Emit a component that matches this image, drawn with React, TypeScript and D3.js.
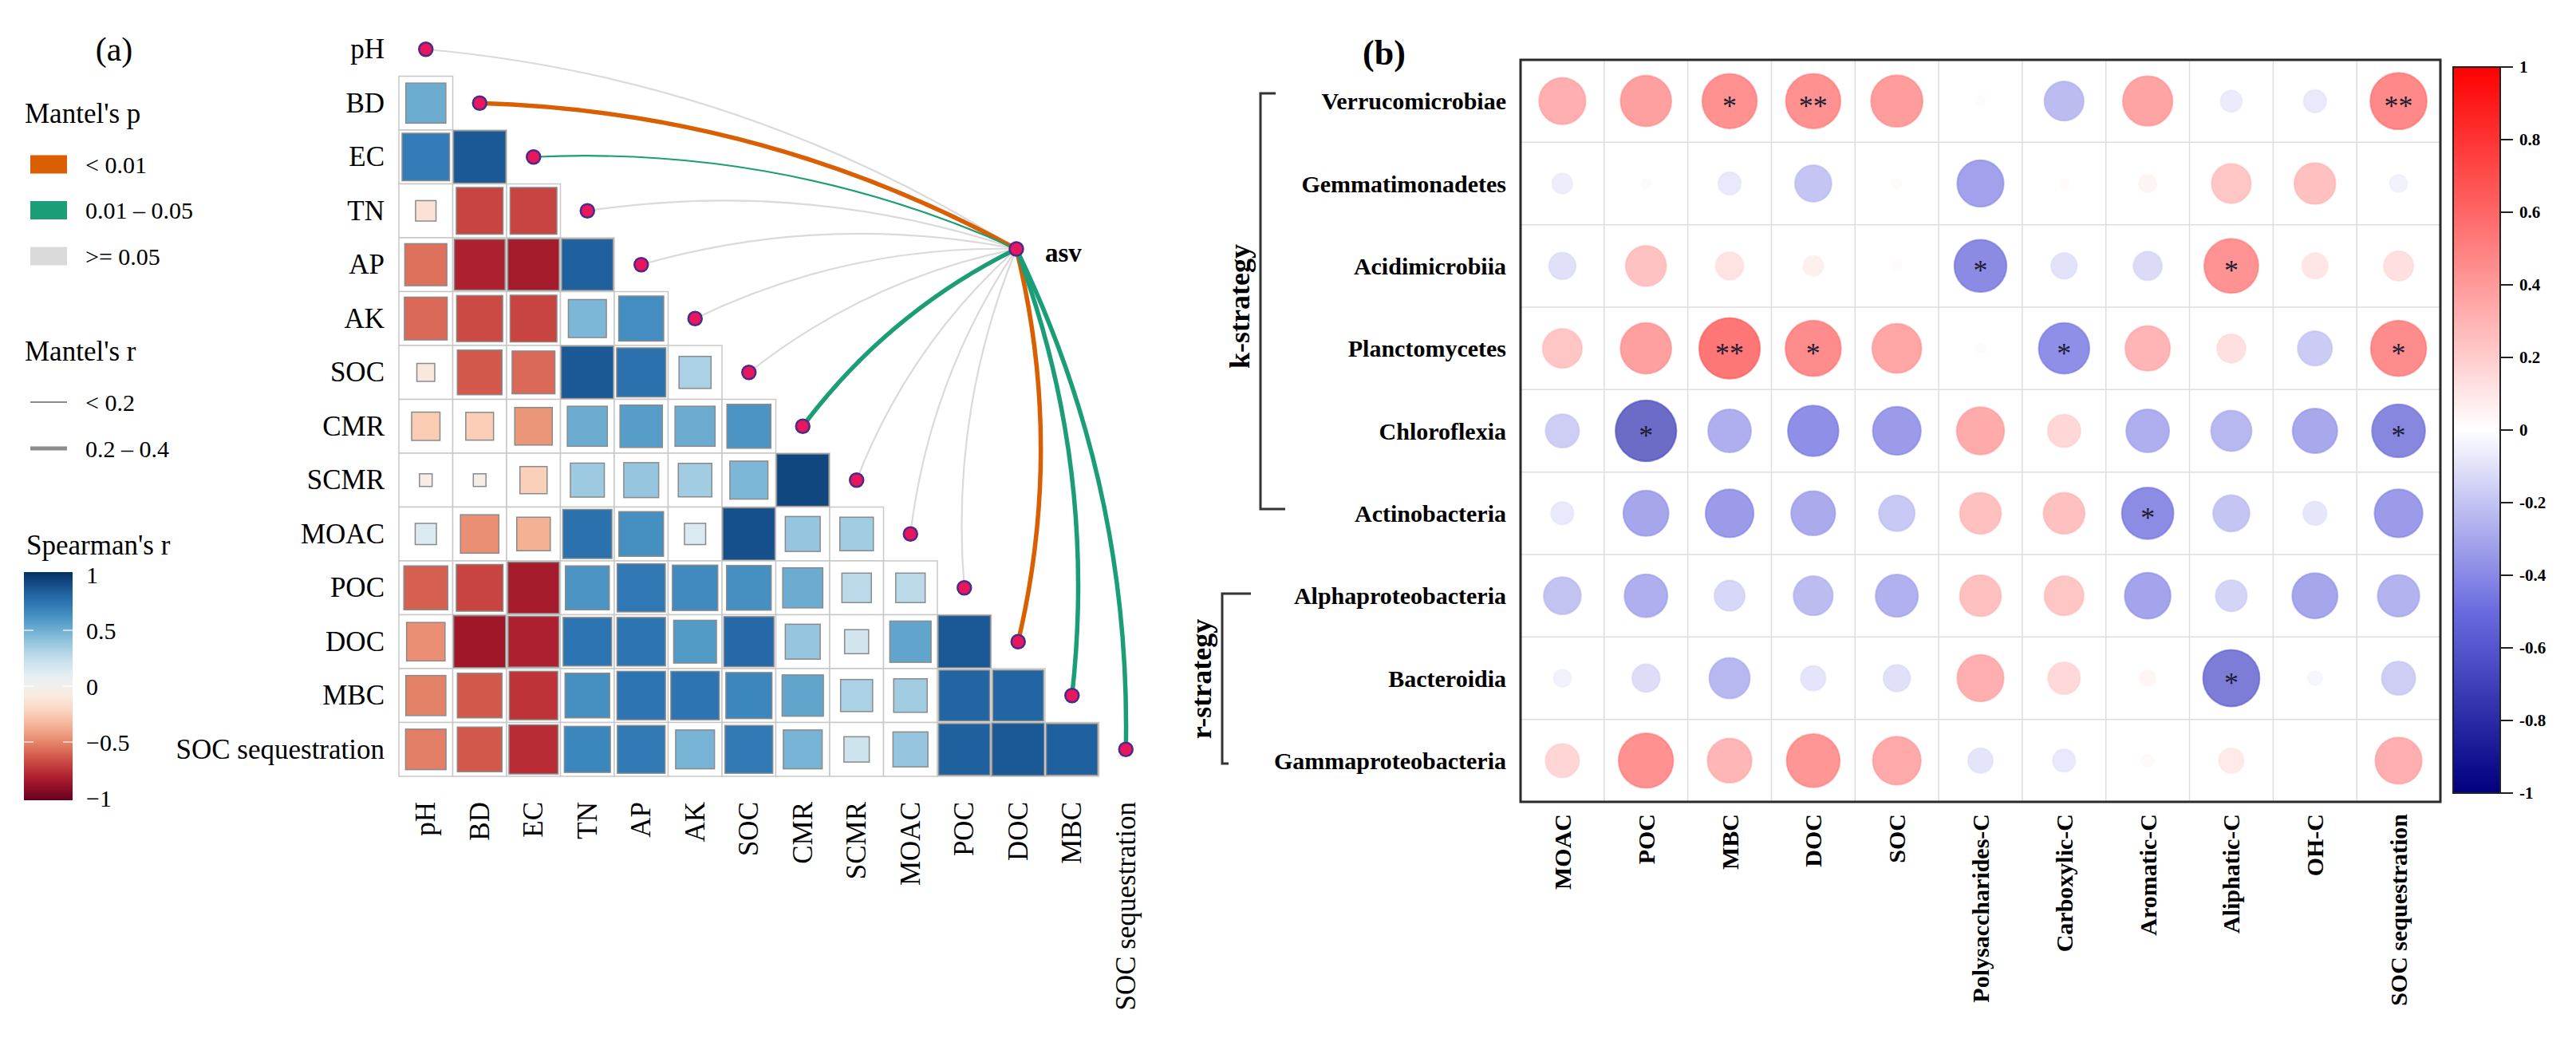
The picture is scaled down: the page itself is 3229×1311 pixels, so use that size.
import * as d3 from 'd3';

const FONT = "'Times New Roman', 'Liberation Serif', serif";
const W = 3229;
const H = 1311;

// ---------- panel (a) data ----------
const ENV_VARS = ['pH', 'BD', 'EC', 'TN', 'AP', 'AK', 'SOC', 'CMR', 'SCMR', 'MOAC', 'POC', 'DOC', 'MBC', 'SOC sequestration'];

// lower triangle, row i has values for columns 0..i-1
const SPEARMAN_ROWS = [
  [],
  [0.5],
  [0.7, 0.85],
  [-0.13, -0.68, -0.68],
  [-0.55, -0.8, -0.82, 0.82],
  [-0.57, -0.66, -0.68, 0.45, 0.63],
  [-0.1, -0.62, -0.57, 0.85, 0.75, 0.32],
  [-0.25, -0.24, -0.44, 0.5, 0.56, 0.5, 0.6],
  [-0.05, -0.05, -0.23, 0.36, 0.38, 0.35, 0.45, 0.92],
  [0.14, -0.46, -0.35, 0.75, 0.62, 0.14, 0.88, 0.38, 0.35],
  [-0.6, -0.68, -0.82, 0.6, 0.72, 0.64, 0.62, 0.5, 0.27, 0.27],
  [-0.46, -0.84, -0.8, 0.73, 0.73, 0.57, 0.78, 0.38, 0.18, 0.53, 0.85],
  [-0.5, -0.62, -0.73, 0.62, 0.73, 0.73, 0.66, 0.53, 0.32, 0.35, 0.8, 0.8],
  [-0.51, -0.62, -0.75, 0.66, 0.71, 0.47, 0.71, 0.47, 0.2, 0.38, 0.82, 0.85, 0.82],
];

const MANTEL_P = ['>= 0.05', '< 0.01', '0.01 - 0.05', '>= 0.05', '>= 0.05', '>= 0.05', '>= 0.05',
  '0.01 - 0.05', '>= 0.05', '>= 0.05', '>= 0.05', '< 0.01', '0.01 - 0.05', '0.01 - 0.05'];
const MANTEL_R = ['< 0.2', '0.2 - 0.4', '< 0.2', '< 0.2', '< 0.2', '< 0.2', '< 0.2',
  '0.2 - 0.4', '< 0.2', '< 0.2', '< 0.2', '0.2 - 0.4', '0.2 - 0.4', '0.2 - 0.4'];

const P_LEVELS = ['< 0.01', '0.01 - 0.05', '>= 0.05'];
const P_LABELS = ['< 0.01', '0.01 \u2013 0.05', '>= 0.05'];
const P_COLORS = ['#D95F02', '#1B9E77', '#DADADA'];
const R_LEVELS = ['< 0.2', '0.2 - 0.4'];
const R_LABELS = ['< 0.2', '0.2 \u2013 0.4'];
const R_WIDTHS = [2.2, 5.5];

const SPEARMAN_TICKS = [1, 0.5, 0, -0.5, -1];

// ---------- panel (b) data ----------
const TAXA = ['Verrucomicrobiae', 'Gemmatimonadetes', 'Acidimicrobiia', 'Planctomycetes', 'Chloroflexia',
  'Actinobacteria', 'Alphaproteobacteria', 'Bacteroidia', 'Gammaproteobacteria'];
const CARBON_VARS = ['MOAC', 'POC', 'MBC', 'DOC', 'SOC', 'Polysaccharides-C', 'Carboxylic-C', 'Aromatic-C',
  'Aliphatic-C', 'OH-C', 'SOC sequestration'];

const CORR_B = [
  [0.42, 0.5, 0.58, 0.58, 0.52, 0.02, -0.3, 0.48, -0.09, -0.1, 0.62],
  [-0.08, -0.02, -0.1, -0.26, 0.02, -0.42, 0.02, 0.06, 0.3, 0.33, -0.06],
  [-0.14, 0.32, 0.15, 0.08, 0.02, -0.53, -0.13, -0.16, 0.57, 0.13, 0.17],
  [0.3, 0.5, 0.72, 0.6, 0.47, 0.02, -0.5, 0.39, 0.16, -0.23, 0.6],
  [-0.22, -0.72, -0.36, -0.5, -0.45, 0.44, 0.21, -0.36, -0.32, -0.39, -0.55],
  [-0.1, -0.4, -0.45, -0.38, -0.25, 0.33, 0.33, -0.52, -0.26, -0.11, -0.45],
  [-0.27, -0.36, -0.18, -0.3, -0.35, 0.33, 0.3, -0.41, -0.19, -0.4, -0.34],
  [-0.06, -0.15, -0.32, -0.12, -0.14, 0.42, 0.2, 0.05, -0.62, -0.04, -0.22],
  [0.22, 0.58, 0.38, 0.55, 0.45, -0.12, -0.1, 0.03, 0.12, 0, 0.42],
];

const SIG_B = [
  ['', '', '*', '**', '', '', '', '', '', '', '**'],
  ['', '', '', '', '', '', '', '', '', '', ''],
  ['', '', '', '', '', '*', '', '', '*', '', ''],
  ['', '', '**', '*', '', '', '*', '', '', '', '*'],
  ['', '*', '', '', '', '', '', '', '', '', '*'],
  ['', '', '', '', '', '', '', '*', '', '', ''],
  ['', '', '', '', '', '', '', '', '', '', ''],
  ['', '', '', '', '', '', '', '', '*', '', ''],
  ['', '', '', '', '', '', '', '', '', '', ''],
];

const B_TICKS = [1, 0.8, 0.6, 0.4, 0.2, 0, -0.2, -0.4, -0.6, -0.8, -1];

// ---------- scales ----------
const xA = d3.scaleBand<string>().domain(ENV_VARS).range([500, 500 + 67.5 * 14]);
const yA = d3.scaleBand<string>().domain(ENV_VARS).range([28, 28 + 67.5 * 14]);
const cellA = xA.bandwidth();
const sideA = d3.scaleSqrt().domain([0, 0.85]).range([0, cellA * 0.97]).clamp(true);
const colorA = (v: number) => d3.interpolateRdBu((v + 1) / 2);
const ASV = { x: 1274, y: 312 };
const yCbarA = d3.scaleLinear().domain([1, -1]).range([720, 1000]);

const xB = d3.scaleBand<string>().domain(CARBON_VARS).range([1906, 3059]);
const yB = d3.scaleBand<string>().domain(TAXA).range([75, 1005]);
const rB = d3.scaleSqrt().domain([0, 1]).range([0, 45]);
const colorB = d3.scaleLinear<string>()
  .domain([-1, -0.5, 0, 0.5, 1])
  .range(['#000080', '#6A6AE0', '#FFFFFF', '#FF8080', '#FF0000']);
const yCbarB = d3.scaleLinear().domain([1, -1]).range([84, 994]);

function linkPath(x1: number, y1: number) {
  const dx = x1 - ASV.x;
  const dy = y1 - ASV.y;
  const len = Math.hypot(dx, dy);
  // bend to the right of travel for targets on the left, to the left for targets on the right
  const nx = x1 <= ASV.x ? -dy / len : dy / len;
  const ny = x1 <= ASV.x ? dx / len : -dx / len;
  const k = 0.12 * len;
  const cx = (ASV.x + x1) / 2 + nx * k;
  const cy = (ASV.y + y1) / 2 + ny * k;
  const p = d3.path();
  p.moveTo(ASV.x, ASV.y);
  p.quadraticCurveTo(cx, cy, x1, y1);
  return p.toString();
}

function PanelA() {
  const cells: JSX.Element[] = [];
  SPEARMAN_ROWS.forEach((row, i) => {
    row.forEach((v, j) => {
      const x = xA(ENV_VARS[j])!;
      const y = yA(ENV_VARS[i])!;
      const s = sideA(Math.abs(v));
      cells.push(
        <g key={`c${i}-${j}`}>
          <rect x={x} y={y} width={cellA} height={cellA} fill="#fff" stroke="#C8C8C8" strokeWidth={1.5} />
          <rect x={x + (cellA - s) / 2} y={y + (cellA - s) / 2} width={s} height={s}
            fill={colorA(v)} stroke="#8A8A8A" strokeWidth={1.5} />
        </g>
      );
    });
  });

  const diag = ENV_VARS.map(name => ({
    name,
    x: xA(name)! + cellA / 2,
    y: yA(name)! + cellA / 2,
  }));
  const links = diag.map((d, i) => ({
    ...d,
    color: P_COLORS[P_LEVELS.indexOf(MANTEL_P[i])],
    width: R_WIDTHS[R_LEVELS.indexOf(MANTEL_R[i])],
    grey: MANTEL_P[i] === '>= 0.05',
  }));
  const ordered = [...links.filter(l => l.grey), ...links.filter(l => !l.grey)];

  return (
    <g fontFamily={FONT}>
      <text x={143} y={62} fontSize={42} textAnchor="middle" dominantBaseline="central">(a)</text>

      {/* Mantel legends */}
      <text x={31} y={154} fontSize={35}>Mantel's p</text>
      {P_LABELS.map((lab, i) => (
        <g key={lab} transform={`translate(0,${206 + i * 57.5})`}>
          <rect x={38} y={-11.5} width={46} height={23} fill={P_COLORS[i]} />
          <text x={107} y={0} fontSize={30} dominantBaseline="central">{lab}</text>
        </g>
      ))}
      <text x={31} y={452} fontSize={35}>Mantel's r</text>
      {R_LABELS.map((lab, i) => (
        <g key={lab} transform={`translate(0,${504 + i * 58})`}>
          <line x1={38} x2={84} y1={0} y2={0} stroke="#8C8C8C" strokeWidth={R_WIDTHS[i] * 0.9} />
          <text x={107} y={0} fontSize={30} dominantBaseline="central">{lab}</text>
        </g>
      ))}

      {/* Spearman colour bar */}
      <text x={33} y={695} fontSize={35}>Spearman's r</text>
      <defs>
        <linearGradient id="gradA" x1="0" y1="0" x2="0" y2="1">
          {d3.range(0, 1.0001, 0.05).map(t => (
            <stop key={t} offset={t} stopColor={d3.interpolateRdBu(1 - t)} />
          ))}
        </linearGradient>
      </defs>
      <rect x={30} y={717} width={61} height={286} fill="url(#gradA)" />
      {SPEARMAN_TICKS.map(t => (
        <g key={t}>
          <line x1={30} x2={42} y1={yCbarA(t)} y2={yCbarA(t)} stroke="#fff" strokeWidth={1.5} opacity={t === 1 || t === -1 ? 0 : 0.8} />
          <line x1={79} x2={91} y1={yCbarA(t)} y2={yCbarA(t)} stroke="#fff" strokeWidth={1.5} opacity={t === 1 || t === -1 ? 0 : 0.8} />
          <text x={108} y={yCbarA(t)} fontSize={30} dominantBaseline="central">
            {t < 0 ? `\u2212${Math.abs(t)}` : `${t}`}
          </text>
        </g>
      ))}

      {/* matrix */}
      {cells}

      {ENV_VARS.map(name => (
        <text key={`r-${name}`} x={482} y={yA(name)! + cellA / 2} fontSize={35}
          textAnchor="end" dominantBaseline="central">{name}</text>
      ))}
      {ENV_VARS.map(name => (
        <text key={`col-${name}`} fontSize={35} textAnchor="end" dominantBaseline="central"
          transform={`translate(${xA(name)! + cellA / 2},1005) rotate(-90)`}>{name}</text>
      ))}

      {/* Mantel links */}
      {ordered.map(l => (
        <path key={`l-${l.name}`} d={linkPath(l.x, l.y)} fill="none" stroke={l.color}
          strokeWidth={l.width} strokeLinecap="round" />
      ))}
      {diag.map(d => (
        <circle key={`d-${d.name}`} cx={d.x} cy={d.y} r={8.5} fill="#E8175D" stroke="#4B2A8A" strokeWidth={2.5} />
      ))}
      <circle cx={ASV.x} cy={ASV.y} r={8.5} fill="#E8175D" stroke="#4B2A8A" strokeWidth={2.5} />
      <text x={1310} y={317} fontSize={33} fontWeight="bold" dominantBaseline="central">asv</text>
    </g>
  );
}

function PanelB() {
  const [x0, x1] = xB.range();
  const [y0, y1] = yB.range();
  const bw = xB.bandwidth();
  const bh = yB.bandwidth();
  return (
    <g fontFamily={FONT} fontWeight="bold">
      <text x={1735} y={66} fontSize={44} textAnchor="middle" dominantBaseline="central">(b)</text>

      {/* grid */}
      {CARBON_VARS.slice(1).map(c => (
        <line key={`gv-${c}`} x1={xB(c)!} x2={xB(c)!} y1={y0} y2={y1} stroke="#DEDEDE" strokeWidth={1.5} />
      ))}
      {TAXA.slice(1).map(t => (
        <line key={`gh-${t}`} x1={x0} x2={x1} y1={yB(t)!} y2={yB(t)!} stroke="#DEDEDE" strokeWidth={1.5} />
      ))}

      {CORR_B.map((row, i) => row.map((v, j) => {
        const cx = xB(CARBON_VARS[j])! + bw / 2;
        const cy = yB(TAXA[i])! + bh / 2;
        const sig = SIG_B[i][j];
        return (
          <g key={`b${i}-${j}`}>
            <circle cx={cx} cy={cy} r={rB(Math.abs(v))} fill={colorB(v)} fillOpacity={0.75}
              stroke={colorB(v)} strokeOpacity={0.55} strokeWidth={2} />
            {sig && (
              <text x={cx} y={cy + 18} fontSize={36} textAnchor="middle" fill="#1d1d33" fontWeight="normal">{sig}</text>
            )}
          </g>
        );
      }))}

      <rect x={x0} y={y0} width={x1 - x0} height={y1 - y0} fill="none" stroke="#2a2a2a" strokeWidth={3} />

      {TAXA.map(t => (
        <text key={`rt-${t}`} x={1888} y={yB(t)! + bh / 2} fontSize={30} textAnchor="end"
          dominantBaseline="central">{t}</text>
      ))}
      {CARBON_VARS.map(c => (
        <text key={`ct-${c}`} fontSize={30} textAnchor="end" dominantBaseline="central"
          transform={`translate(${xB(c)! + bw / 2},1020) rotate(-90)`}>{c}</text>
      ))}

      {/* strategy brackets */}
      <path d="M1599,117 H1580 V638 H1611" fill="none" stroke="#333" strokeWidth={3} />
      <text fontSize={36} textAnchor="middle" dominantBaseline="central"
        transform="translate(1554,384) rotate(-90)">k-strategy</text>
      <path d="M1568,744 H1532 V957 H1540" fill="none" stroke="#333" strokeWidth={3} />
      <text fontSize={36} textAnchor="middle" dominantBaseline="central"
        transform="translate(1506,851) rotate(-90)">r-strategy</text>

      {/* colour bar */}
      <defs>
        <linearGradient id="gradB" x1="0" y1="0" x2="0" y2="1">
          {d3.range(0, 1.0001, 0.05).map(t => (
            <stop key={t} offset={t} stopColor={colorB(1 - 2 * t)} />
          ))}
        </linearGradient>
      </defs>
      <rect x={3075} y={84} width={59} height={910} fill="url(#gradB)" stroke="#222" strokeWidth={2} />
      {B_TICKS.map(t => (
        <g key={`bt-${t}`}>
          <line x1={3134} x2={3150} y1={yCbarB(t)} y2={yCbarB(t)} stroke="#222" strokeWidth={2} />
          <text x={3158} y={yCbarB(t)} fontSize={21} dominantBaseline="central">{t}</text>
        </g>
      ))}
    </g>
  );
}

export default function App() {
  return (
    <svg width={W} height={H} viewBox={`0 0 ${W} ${H}`}
      style={{ position: 'absolute', left: 0, top: 0, background: '#fff' }}>
      <rect width={W} height={H} fill="#fff" />
      <PanelA />
      <PanelB />
    </svg>
  );
}
